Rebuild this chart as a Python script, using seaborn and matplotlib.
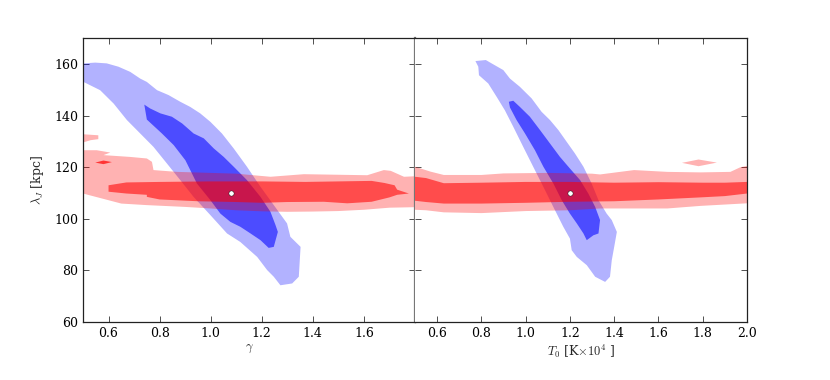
import numpy as np
import matplotlib
matplotlib.use("Agg")
import matplotlib.pyplot as plt
import seaborn as sns

# contour outlines (data units)
# left panel: gamma vs lambda_J
g_blue_out_x = [0.502, 0.548, 0.593, 0.639, 0.685, 0.724, 0.750, 0.790, 0.835, 0.881, 0.920, 0.959, 0.999,
                1.044, 1.090, 1.142, 1.195, 1.247, 1.299, 1.312, 1.352, 1.345, 1.319, 1.273, 1.247, 1.221,
                1.182, 1.116, 1.064, 0.999, 0.933, 0.881, 0.829, 0.776, 0.724, 0.672, 0.620, 0.567, 0.502]
g_blue_out_y = [160.3, 160.6, 160.3, 159.0, 157.0, 154.4, 153.1, 149.9, 148.0, 145.4, 143.4, 140.9, 137.6,
                133.1, 127.3, 120.2, 112.4, 105.3, 98.2, 93.0, 89.1, 77.5, 74.9, 74.2, 77.5, 80.1,
                85.2, 91.0, 94.3, 101.4, 108.5, 115.0, 121.4, 127.9, 133.1, 138.3, 144.7, 149.9, 153.1]
g_blue_in_x = [0.740, 0.763, 0.803, 0.848, 0.888, 0.933, 0.973, 1.012, 1.051, 1.090, 1.142, 1.195, 1.234,
               1.254, 1.263, 1.247, 1.227, 1.195, 1.156, 1.116, 1.077, 1.038, 0.999, 0.946, 0.901, 0.855,
               0.809, 0.750]
g_blue_in_y = [144.3, 142.8, 140.9, 139.6, 137.0, 133.1, 131.2, 127.3, 124.0, 120.2, 115.0, 108.5, 102.7,
               97.5, 94.9, 89.1, 88.7, 91.7, 94.3, 96.9, 98.8, 102.0, 107.2, 113.7, 122.7, 128.6,
               133.1, 138.5]
g_red_out_x = [0.5, 0.554, 0.607, 0.58, 0.685, 0.75, 0.77, 0.776, 0.868, 1.0, 1.1, 1.234, 1.365, 1.613,
               1.678, 1.705, 1.757, 1.8, 1.8, 1.7, 1.6, 1.5, 1.4, 1.3, 1.2, 1.1, 1.0, 0.9, 0.75, 0.65,
               0.55, 0.5]
g_red_out_y = [126.6, 126.6, 125.7, 124.7, 124.0, 123.4, 122.1, 118.9, 118.2, 117.8, 117.5, 116.3, 117.3,
               116.9, 118.9, 118.6, 116.3, 116.5, 104.5, 104.3, 103.5, 103.0, 102.8, 102.7, 102.9,
               103.3, 104.0, 104.6, 105.3, 105.9, 108.5, 109.8]
g_red_in_x = [0.6, 0.6, 0.67, 0.8, 1.0, 1.2, 1.37, 1.63, 1.68, 1.72, 1.73, 1.776, 1.73, 1.7, 1.63, 1.535,
              1.443, 1.3, 1.2, 1.1, 0.95, 0.8, 0.75, 0.75, 0.67, 0.6]
g_red_in_y = [111.7, 113.0, 114.1, 114.3, 114.5, 114.5, 114.3, 114.7, 113.9, 113.0, 111.3, 109.8, 109.3,
              108.3, 106.6, 106.0, 106.6, 106.5, 106.2, 106.5, 106.8, 107.5, 108.5, 109.3, 109.8, 110.5]
g_red_isle_x = [0.5, 0.56, 0.56, 0.53, 0.5]
g_red_isle_y = [132.8, 132.4, 130.9, 130.5, 129.6]
g_red_blob_x = [0.548, 0.58, 0.613, 0.58]
g_red_blob_y = [121.8, 122.6, 122.0, 121.2]

# right panel: T0 vs lambda_J
t_blue_out_x = [0.773, 0.820, 0.846, 0.899, 0.929, 0.974, 1.027, 1.072, 1.110, 1.148, 1.185, 1.223, 1.261,
                1.298, 1.329, 1.366, 1.389, 1.412, 1.400, 1.389, 1.381, 1.359, 1.314, 1.276, 1.231, 1.208,
                1.200, 1.170, 1.125, 1.080, 1.034, 0.989, 0.944, 0.906, 0.869, 0.831, 0.789, 0.786]
t_blue_out_y = [161.2, 161.6, 160.3, 157.7, 154.4, 151.2, 146.7, 141.5, 138.3, 134.4, 129.9, 125.3, 120.2,
                113.7, 107.2, 102.0, 99.5, 94.9, 89.1, 83.9, 77.5, 75.5, 77.5, 82.0, 85.2, 87.8,
                92.3, 96.9, 104.6, 112.4, 120.2, 127.9, 135.7, 142.1, 147.3, 152.5, 155.7, 159.0]
t_blue_in_x = [0.924, 0.944, 0.974, 1.019, 1.065, 1.110, 1.155, 1.200, 1.246, 1.283, 1.314, 1.336, 1.329,
               1.306, 1.276, 1.261, 1.231, 1.200, 1.163, 1.125, 1.080, 1.042, 0.997, 0.959, 0.929]
t_blue_in_y = [145.4, 145.8, 143.4, 139.6, 134.4, 129.2, 124.0, 119.5, 115.0, 109.8, 104.6, 99.5, 94.3,
               93.6, 91.7, 94.3, 98.2, 102.0, 107.2, 113.7, 120.2, 126.6, 133.1, 138.3, 143.2]
t_red_out_x = [0.5, 0.57, 0.63, 0.8, 0.9, 1.1, 1.3, 1.336, 1.49, 1.64, 1.79, 1.925, 1.97, 2.0,
               2.0, 1.79, 1.64, 1.49, 1.336, 1.2, 1.0, 0.8, 0.63, 0.55, 0.5]
t_red_out_y = [120.2, 118.3, 117.0, 117.0, 117.6, 117.8, 117.5, 117.2, 118.9, 118.2, 118.0, 118.2, 120.0,
               120.5, 106.0, 105.0, 104.0, 104.0, 104.0, 103.3, 103.0, 102.2, 102.5, 103.3, 103.5]
t_red_in_x = [0.5, 0.55, 0.63, 0.8, 1.0, 1.2, 1.4, 1.6, 1.8, 1.9, 2.0,
              2.0, 1.9, 1.79, 1.6, 1.4, 1.2, 1.0, 0.8, 0.63, 0.55, 0.5]
t_red_in_y = [116.3, 115.8, 113.8, 114.0, 114.3, 114.3, 114.0, 114.2, 114.0, 114.0, 114.3,
              109.8, 108.8, 108.3, 107.5, 106.8, 106.6, 106.2, 105.9, 105.9, 106.5, 107.0]
t_red_isle_x = [1.706, 1.781, 1.864, 1.781]
t_red_isle_y = [121.7, 123.0, 121.8, 120.4]

# best-fit points
best_gamma = [1.08]
best_T0 = [1.20]
best_lam = [110.0]

sns.set_style("ticks")
plt.rcParams['font.family'] = ['DejaVu Serif']
plt.rcParams['mathtext.fontset'] = 'cm'
plt.rcParams['xtick.direction'] = 'in'
plt.rcParams['ytick.direction'] = 'in'
plt.rcParams['xtick.top'] = True
plt.rcParams['ytick.right'] = True

fig, axes = plt.subplots(1, 2, figsize=(8.3, 3.8), dpi=100, sharey=True)
fig.subplots_adjust(left=0.1, right=0.9, bottom=0.153, top=0.899, wspace=0)

a_out, a_in = 0.3, 0.571

ax = axes[0]
ax.fill(g_blue_out_x, g_blue_out_y, color='blue', alpha=a_out, lw=0)
ax.fill(g_blue_in_x, g_blue_in_y, color='blue', alpha=a_in, lw=0)
ax.fill(g_red_out_x, g_red_out_y, color='red', alpha=a_out, lw=0)
ax.fill(g_red_isle_x, g_red_isle_y, color='red', alpha=a_out, lw=0)
ax.fill(g_red_blob_x, g_red_blob_y, color='red', alpha=0.7, lw=0)
ax.fill(g_red_in_x, g_red_in_y, color='red', alpha=a_in, lw=0)
sns.scatterplot(x=best_gamma, y=best_lam, ax=ax, color='white', edgecolor='black',
                linewidth=0.3, s=14, zorder=5)
ax.set_xlim(0.5, 1.8)
ax.set_ylim(60, 170)
ax.set_xticks([0.6, 0.8, 1.0, 1.2, 1.4, 1.6])
ax.set_yticks([60, 80, 100, 120, 140, 160])
ax.set_xlabel(r'$\gamma$', fontsize=9, labelpad=2)
ax.set_ylabel(r'$\lambda_J$ [kpc]', fontsize=9, labelpad=6)

ax = axes[1]
ax.fill(t_blue_out_x, t_blue_out_y, color='blue', alpha=a_out, lw=0)
ax.fill(t_blue_in_x, t_blue_in_y, color='blue', alpha=a_in, lw=0)
ax.fill(t_red_out_x, t_red_out_y, color='red', alpha=a_out, lw=0)
ax.fill(t_red_isle_x, t_red_isle_y, color='red', alpha=a_out, lw=0)
ax.fill(t_red_in_x, t_red_in_y, color='red', alpha=a_in, lw=0)
sns.scatterplot(x=best_T0, y=best_lam, ax=ax, color='white', edgecolor='black',
                linewidth=0.3, s=14, zorder=5)
ax.set_xlim(0.5, 2.0)
ax.set_xticks([0.6, 0.8, 1.0, 1.2, 1.4, 1.6, 1.8, 2.0])
ax.set_xlabel(r'$T_0$ [K$\times10^4$ ]', fontsize=9, labelpad=2)
ax.tick_params(labelleft=False)

for ax in axes:
    ax.tick_params(labelsize=9, length=4, width=0.6, colors='#333333', labelcolor='black')
    for sp in ax.spines.values():
        sp.set_color('#222222')
        sp.set_linewidth(0.9)

# shared middle edge looks grey and a bit heavier
axes[0].spines['right'].set_color('#777777')
axes[0].spines['right'].set_linewidth(1.6)
axes[1].spines['left'].set_visible(False)

fig.savefig('out.png', dpi=100)
